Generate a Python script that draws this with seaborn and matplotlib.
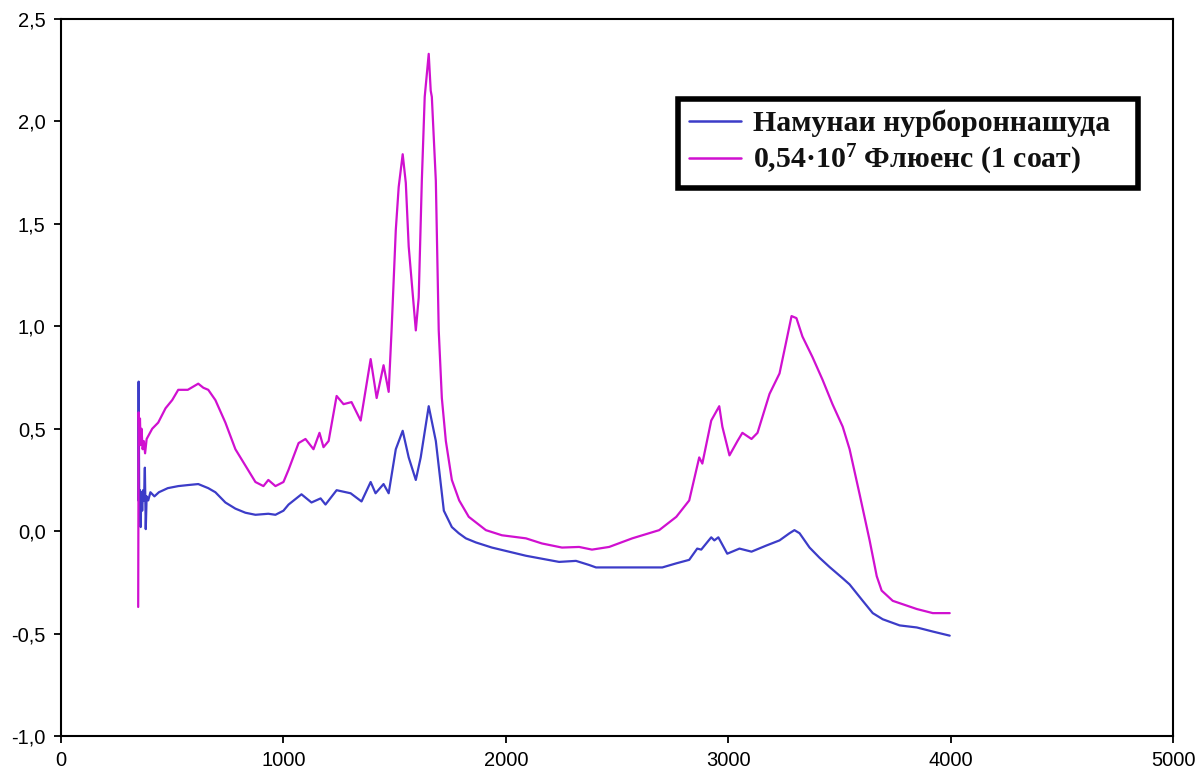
import matplotlib
matplotlib.use("Agg")
import matplotlib.pyplot as plt
import seaborn as sns
import pandas as pd
from matplotlib.ticker import FuncFormatter, MultipleLocator

# ---- data ----
blue_x = [347, 349, 352, 355, 358, 361, 365, 369, 373, 377, 381, 385, 392, 402, 420, 440, 480, 527, 570, 617,
          662, 694, 739, 784, 829, 874, 932, 964, 1000, 1023, 1081, 1126, 1167, 1189, 1239, 1302, 1351, 1392,
          1414, 1450, 1473, 1505, 1536, 1563, 1595, 1617, 1653, 1685, 1721, 1757, 1788, 1820, 1865, 1937,
          2090, 2239, 2315, 2374, 2405, 2540, 2703, 2766, 2824, 2860, 2878, 2923, 2937, 2955, 2995, 3050,
          3104, 3171, 3230, 3275, 3297, 3320, 3365, 3410, 3455, 3514, 3545, 3604, 3649, 3694, 3770, 3847,
          3919, 3995]
blue_y = [0.15, 0.73, 0.05, 0.20, 0.02, 0.19, 0.10, 0.20, 0.15, 0.31, 0.01, 0.17, 0.15, 0.19, 0.17, 0.19, 0.21,
          0.22, 0.225, 0.23, 0.21, 0.19, 0.14, 0.11, 0.09, 0.08, 0.085, 0.08, 0.10, 0.13, 0.18, 0.14, 0.16, 0.13,
          0.20, 0.185, 0.145, 0.24, 0.185, 0.23, 0.185, 0.40, 0.49, 0.36, 0.25, 0.36, 0.61, 0.44, 0.10, 0.02,
          -0.01, -0.035, -0.055, -0.08, -0.12, -0.15, -0.145, -0.165, -0.177, -0.177, -0.177, -0.157, -0.14,
          -0.085, -0.09, -0.03, -0.045, -0.03, -0.11, -0.085, -0.10, -0.07, -0.045, -0.01, 0.005, -0.01, -0.08,
          -0.13, -0.175, -0.23, -0.26, -0.34, -0.40, -0.43, -0.46, -0.47, -0.49, -0.51]

pink_x = [347, 349, 352, 355, 358, 362, 367, 372, 378, 385, 395, 410, 437, 470, 500, 527, 570, 617, 640, 662,
          694, 739, 784, 829, 874, 910, 932, 964, 1000, 1023, 1068, 1099, 1135, 1162, 1180, 1203, 1239, 1270,
          1306, 1347, 1392, 1419, 1450, 1473, 1486, 1505, 1518, 1536, 1550, 1563, 1595, 1608, 1622, 1635, 1653,
          1662, 1667, 1685, 1698, 1712, 1730, 1757, 1790, 1833, 1910, 1982, 2090, 2162, 2252, 2329, 2387, 2464,
          2568, 2689, 2766, 2824, 2869, 2883, 2923, 2959, 2973, 3005, 3041, 3063, 3104, 3131, 3185, 3230, 3261,
          3284, 3306, 3333, 3378, 3423, 3468, 3514, 3545, 3590, 3635, 3667, 3689, 3739, 3847, 3919, 3995]
pink_y = [-0.37, 0.58, 0.45, 0.55, 0.42, 0.50, 0.40, 0.44, 0.38, 0.45, 0.47, 0.50, 0.53, 0.60, 0.64, 0.69, 0.69,
          0.72, 0.70, 0.69, 0.64, 0.53, 0.40, 0.32, 0.24, 0.22, 0.25, 0.22, 0.24, 0.30, 0.43, 0.45, 0.40, 0.48,
          0.41, 0.44, 0.66, 0.62, 0.63, 0.54, 0.84, 0.65, 0.81, 0.68, 0.98, 1.47, 1.68, 1.84, 1.70, 1.39, 0.98,
          1.14, 1.71, 2.12, 2.33, 2.15, 2.12, 1.71, 0.98, 0.65, 0.44, 0.25, 0.15, 0.07, 0.005, -0.02, -0.035,
          -0.06, -0.08, -0.077, -0.09, -0.077, -0.035, 0.005, 0.07, 0.15, 0.36, 0.33, 0.54, 0.61, 0.51, 0.37,
          0.44, 0.48, 0.45, 0.48, 0.67, 0.77, 0.93, 1.05, 1.04, 0.95, 0.85, 0.74, 0.62, 0.51, 0.40, 0.18, -0.045,
          -0.22, -0.29, -0.34, -0.38, -0.40, -0.40]

label_blue = "Намунаи нурбороннашуда"
label_pink = "0,54·10$^{7}$ Флюенс (1 соат)"

df = pd.concat([
    pd.DataFrame({"x": blue_x, "y": blue_y, "series": label_blue}),
    pd.DataFrame({"x": pink_x, "y": pink_y, "series": label_pink}),
], ignore_index=True)

sns.set_theme(style="white")
plt.rcParams["font.family"] = ["Liberation Sans", "DejaVu Sans"]
plt.rcParams["mathtext.fontset"] = "custom"
plt.rcParams["mathtext.rm"] = "Liberation Serif:bold"
plt.rcParams["mathtext.default"] = "rm"

fig = plt.figure(figsize=(11.96, 7.76), dpi=100)
ax = fig.add_axes([0.051, 0.0515, 0.930, 0.924])

sns.lineplot(data=df, x="x", y="y", hue="series", sort=False, estimator=None,
             palette={label_blue: "#3C3CC8", label_pink: "#D010D0"}, linewidth=1.6, ax=ax)

ax.set_xlim(0, 5000)
ax.set_ylim(-1.0, 2.5)
ax.xaxis.set_major_locator(MultipleLocator(1000))
ax.yaxis.set_major_locator(MultipleLocator(0.5))
ax.yaxis.set_major_formatter(FuncFormatter(lambda v, p: f"{v:.1f}".replace(".", ",")))
ax.xaxis.set_major_formatter(FuncFormatter(lambda v, p: f"{int(v)}"))
ax.set_xlabel("")
ax.set_ylabel("")
for s in ax.spines.values():
    s.set_color("black")
    s.set_linewidth(1.5)
ax.tick_params(axis="both", which="major", direction="out", length=5, width=1.3,
               color="black", labelsize=14.5, labelcolor="black", bottom=True, left=True, pad=6)
ax.grid(False)

leg = ax.legend(loc="upper left", bbox_to_anchor=(0.555, 0.5, 0.4137, 0.388), mode="expand",
                borderaxespad=0, frameon=True, fancybox=False, framealpha=1, edgecolor="black",
                handlelength=1.75, borderpad=0.35, handletextpad=0.4, labelspacing=0.2,
                prop={"family": ["Liberation Serif", "DejaVu Serif"], "weight": "bold", "size": 21.5})
leg.get_frame().set_linewidth(4)
for line in leg.get_lines():
    line.set_linewidth(1.8)
for t in leg.get_texts():
    t.set_color("#111111")

fig.savefig("out.png", dpi=100)
